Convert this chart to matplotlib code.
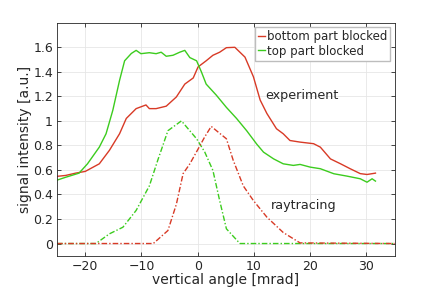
import numpy as np
import matplotlib
matplotlib.use("Agg")
import matplotlib.pyplot as plt

# experiment, bottom part blocked (red)
x_exp_bot = [-25.2, -23.5, -21.7, -20.0, -17.5, -15.7, -13.9, -12.7, -10.95, -9.2, -8.6, -7.4,
             -5.6, -3.8, -2.3, -0.8, 0.06, 1.5, 2.7, 3.9, 5.1, 6.6, 7.5, 8.4, 9.9, 11.1, 12.3,
             14.0, 15.2, 16.4, 18.2, 20.6, 21.8, 23.6, 25.4, 27.1, 28.9, 30.1, 31.6]
y_exp_bot = [0.547, 0.555, 0.574, 0.588, 0.65, 0.76, 0.895, 1.02, 1.10, 1.13, 1.10, 1.10,
             1.12, 1.195, 1.30, 1.35, 1.44, 1.49, 1.535, 1.56, 1.597, 1.60, 1.56, 1.52, 1.36,
             1.17, 1.06, 0.936, 0.895, 0.84, 0.827, 0.814, 0.786, 0.69, 0.65, 0.61, 0.57,
             0.563, 0.574]

# experiment, top part blocked (green)
x_exp_top = [-25.2, -23.5, -21.1, -19.6, -17.5, -16.3, -15.1, -13.9, -13.0, -11.8, -10.95,
             -10.1, -8.6, -7.4, -6.5, -5.6, -4.4, -3.2, -2.3, -1.4, -0.2, 0.65, 1.5, 3.3, 5.1,
             6.9, 8.7, 10.5, 11.7, 13.5, 15.2, 17.0, 18.2, 20.0, 21.8, 24.2, 26.5, 28.9, 30.1,
             31.0, 31.6]
y_exp_top = [0.514, 0.54, 0.574, 0.65, 0.786, 0.895, 1.086, 1.33, 1.49, 1.55, 1.575,
             1.548, 1.556, 1.548, 1.56, 1.527, 1.535, 1.56, 1.575, 1.516, 1.49, 1.40, 1.30,
             1.21, 1.11, 1.02, 0.92, 0.81, 0.745, 0.69, 0.65, 0.637, 0.645, 0.623, 0.61,
             0.569, 0.55, 0.528, 0.50, 0.528, 0.509]

# raytracing, top part blocked (green)
x_ray_top = [-25, -18.1, -15.7, -13.3, -10.95, -8.6, -7.1, -5.3, -2.9, -0.2, 1.25, 2.7,
             3.9, 5.1, 7.5, 35]
y_ray_top = [0, 0, 0.079, 0.133, 0.27, 0.47, 0.68, 0.92, 1.0, 0.854, 0.746, 0.596,
             0.35, 0.12, 0, 0]

# raytracing, bottom part blocked (red)
x_ray_bot = [-25, -7.9, -5.3, -3.8, -2.6, -1.4, 0.06, 1.25, 2.4, 3.6, 5.1, 6.3, 8.1, 9.9,
             12.3, 15.2, 18.2, 35]
y_ray_bot = [0, 0, 0.106, 0.32, 0.57, 0.65, 0.77, 0.87, 0.955, 0.91, 0.854, 0.68, 0.47,
             0.35, 0.215, 0.09, 0.005, 0]

red = "#d83a26"
green = "#3ccc1e"
txt = "#262626"

plt.rcParams["font.family"] = "DejaVu Sans"
fig = plt.figure(figsize=(4.36, 2.92), dpi=100)
ax = fig.add_axes([0.131, 0.124, 0.774, 0.798])

ax.plot(x_exp_bot, y_exp_bot, color=red, lw=1.0, label="bottom part blocked")
ax.plot(x_exp_top, y_exp_top, color=green, lw=1.0, label="top part blocked")
ax.plot(x_ray_top, y_ray_top, color=green, lw=1.0, ls=(0, (4, 1.5, 1, 1.5)))
ax.plot(x_ray_bot, y_ray_bot, color=red, lw=1.0, ls=(0, (4, 1.5, 1, 1.5)))

ax.set_xlim(-25, 35)
ax.set_ylim(-0.1, 1.8)
ax.set_xticks([-20, -10, 0, 10, 20, 30])
ax.set_yticks([0, 0.2, 0.4, 0.6, 0.8, 1.0, 1.2, 1.4, 1.6])
ax.set_yticklabels(["0", "0.2", "0.4", "0.6", "0.8", "1", "1.2", "1.4", "1.6"])
ax.tick_params(direction="in", length=3, width=0.6, colors="#262626", labelsize=9,
               top=True, right=True, labelcolor=txt, pad=3)
ax.grid(True, color="#e6e6e6", lw=0.6)
ax.set_axisbelow(True)
for s in ax.spines.values():
    s.set_color("#262626")
    s.set_linewidth(0.6)

ax.set_xlabel("vertical angle [mrad]", fontsize=10, color=txt, labelpad=0)
ax.set_ylabel("signal intensity [a.u.]", fontsize=10, color=txt, labelpad=1)

ax.text(12, 1.18, "experiment", fontsize=9.2, color=txt)
ax.text(13, 0.28, "raytracing", fontsize=9.2, color=txt)

leg = ax.legend(loc="upper right", fontsize=8.5, handlelength=0.6, handletextpad=0.1,
                borderpad=0.25, labelspacing=0.1, fancybox=False, framealpha=1,
                edgecolor="#bdbdbd", borderaxespad=0.4)
for t in leg.get_texts():
    t.set_color(txt)

fig.savefig("out.png", dpi=100)
